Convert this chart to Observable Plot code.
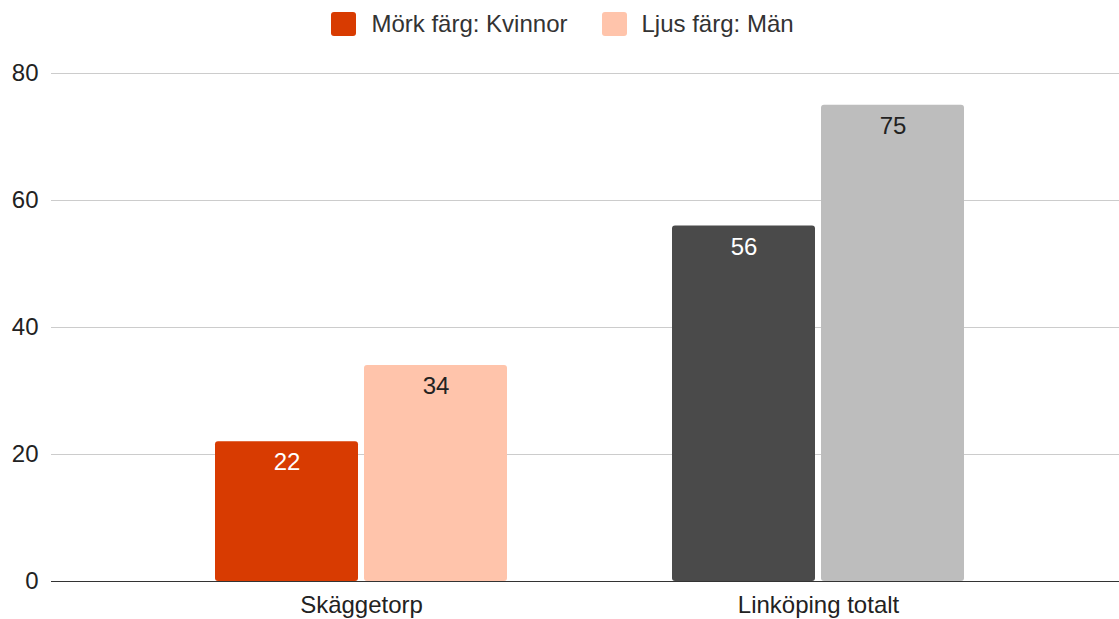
<!DOCTYPE html>
<html>
<head>
<meta charset="utf-8">
<script src="https://cdn.jsdelivr.net/npm/d3@7"></script>
<script src="https://cdn.jsdelivr.net/npm/@observablehq/plot@0.6"></script>
<style>
  html, body { margin: 0; padding: 0; background: #fff; font-family: "Liberation Sans", Arial, sans-serif; }
  #legend { height: 48px; display: flex; justify-content: center; align-items: center; gap: 34px; font-size: 24px; color: #333; padding-left: 6px; }
  .item { display: flex; align-items: center; gap: 15px; }
  .sw { width: 25px; height: 24px; border-radius: 3px; }
</style>
</head>
<body>
<div id="legend"></div>
<div id="chart"></div>
<script>
const categories = ["Skäggetorp", "Linköping totalt"];
const kvinnor = [22, 56];
const man = [34, 75];
const darkColors = ["#d83b01", "#4a4a4a"];
const lightColors = ["#ffc4ab", "#bdbdbd"];
const legendLabels = ["Mörk färg: Kvinnor", "Ljus färg: Män"];
const legendColors = ["#d83b01", "#ffc4ab"];
const yTicks = [0, 20, 40, 60, 80];

const womenRows = categories.map((c, i) => ({category: c, value: kvinnor[i], color: darkColors[i]}));
const menRows = categories.map((c, i) => ({category: c, value: man[i], color: lightColors[i]}));

const legend = document.getElementById("legend");
legendLabels.forEach((l, i) => {
  const it = document.createElement("div");
  it.className = "item";
  const sw = document.createElement("div");
  sw.className = "sw";
  sw.style.background = legendColors[i];
  const t = document.createElement("span");
  t.textContent = l;
  it.appendChild(sw); it.appendChild(t);
  legend.appendChild(it);
});

const chart = Plot.plot({
  width: 1119,
  height: 571,
  marginLeft: 51,
  marginRight: 0,
  marginTop: 25,
  marginBottom: 38,
  style: {fontFamily: "'Liberation Sans', Arial, sans-serif", fontSize: "24px", color: "#222", background: "#fff"},
  x: {type: "band", domain: categories, range: [55.5, 1123.5], paddingInner: 0.36, paddingOuter: 0.346, label: null},
  y: {domain: [0, 80], ticks: yTicks, label: null},
  marks: [
    Plot.ruleY(yTicks.filter(t => t > 0), {stroke: "#cccccc", strokeWidth: 1}),
    Plot.barY(womenRows, {x: "category", y: "value", fill: d => d.color, insetRight: 149, rx: 3}),
    Plot.barY(menRows, {x: "category", y: "value", fill: d => d.color, insetLeft: 149, rx: 3}),
    Plot.ruleY([0], {stroke: "#333", strokeWidth: 1}),
    Plot.text(womenRows, {x: "category", y: "value", text: d => String(d.value), dx: -74.5, dy: 21, fill: "#fff", fontSize: 24}),
    Plot.text(menRows, {x: "category", y: "value", text: d => String(d.value), dx: 74.5, dy: 21, fill: "#222", fontSize: 24}),
    Plot.axisY({ticks: yTicks, tickSize: 0, tickPadding: 13, fontSize: 24, fill: "#222", label: null}),
    Plot.axisX({tickSize: 0, tickPadding: 14, fontSize: 24, fill: "#222", label: null})
  ]
});
document.getElementById("chart").appendChild(chart);
</script>
</body>
</html>
